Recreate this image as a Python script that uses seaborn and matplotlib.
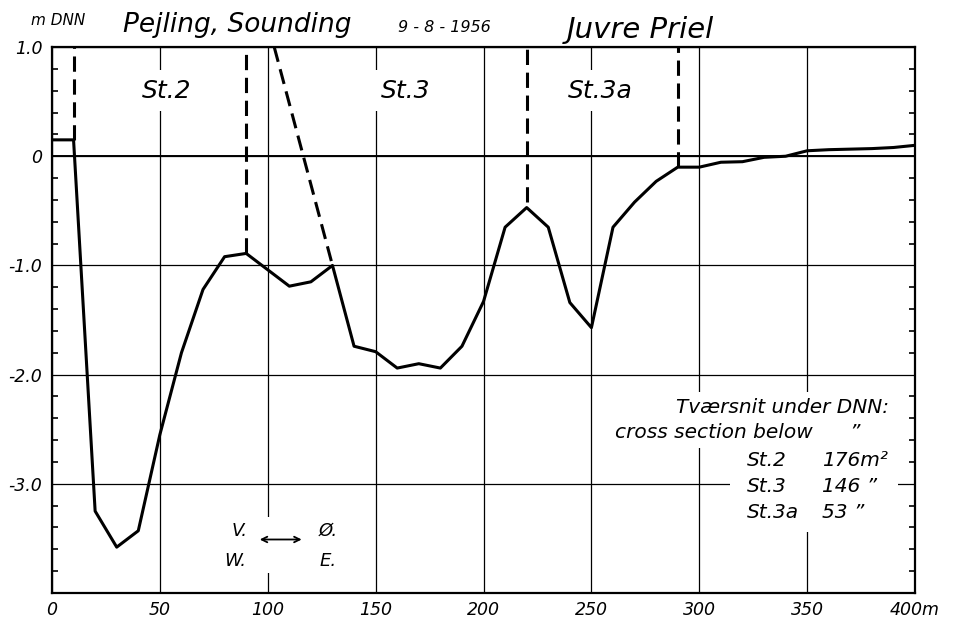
import matplotlib
matplotlib.use("Agg")
import matplotlib.pyplot as plt
from matplotlib.ticker import MultipleLocator, FixedLocator, FixedFormatter
from matplotlib.patches import Rectangle
import pandas as pd
import seaborn as sns

# sounding profile, Juvre Priel 9-8-1956
distance = [0, 10, 20, 30, 40, 50, 60, 70, 80, 90, 100, 110, 120, 130, 140, 150, 160, 170, 180, 190, 200,
            210, 220, 230, 240, 250, 260, 270, 280, 290, 300, 310, 320, 330, 340, 350, 360, 370, 380, 390, 400]
depth = [0.15, 0.15, -3.25, -3.58, -3.43, -2.55, -1.8, -1.22, -0.92, -0.89, -1.04, -1.19, -1.15, -1.0, -1.74,
         -1.79, -1.94, -1.90, -1.94, -1.74, -1.33, -0.65, -0.47, -0.65, -1.34, -1.57, -0.65, -0.42, -0.23, -0.10,
         -0.10, -0.055, -0.05, -0.01, 0.0, 0.05, 0.06, 0.065, 0.07, 0.08, 0.10]

# station boundaries (dashed)
sep_x = [10, 90, 220, 290]
sep_bottom = [0.15, -0.89, -0.42, -0.10]
slant_x = [103, 130]
slant_y = [1.0, -1.0]

station_names = ["St.2", "St.3", "St.3a"]
station_x = [53, 164, 254]
section_values = ["176m²", "146 \u201d", "53 \u201d"]

xtick_vals = [0, 50, 100, 150, 200, 250, 300, 350, 400]
xtick_labels = ["0", "50", "100", "150", "200", "250", "300", "350", "400m"]
ytick_vals = [-4.0, -3.0, -2.0, -1.0, 0.0, 1.0]
ytick_labels = ["", "-3.0", "-2.0", "-1.0", "0", "1.0"]

df = pd.DataFrame({"distance": distance, "depth": depth})

sns.set_style("white")
plt.rcParams["font.family"] = ["DejaVu Sans"]
plt.rcParams["font.style"] = "italic"
plt.rcParams["text.color"] = "black"
plt.rcParams["xtick.color"] = "black"
plt.rcParams["ytick.color"] = "black"

fig = plt.figure(figsize=(9.59, 6.19), dpi=100)
ax = fig.add_axes([0.0542, 0.042, 0.9, 0.882])

ax.set_xlim(0, 400)
ax.set_ylim(-4.0, 1.0)
ax.xaxis.set_major_locator(FixedLocator(xtick_vals))
ax.xaxis.set_major_formatter(FixedFormatter(xtick_labels))
ax.yaxis.set_major_locator(FixedLocator(ytick_vals))
ax.yaxis.set_major_formatter(FixedFormatter(ytick_labels))
ax.yaxis.set_minor_locator(MultipleLocator(0.2))
ax.grid(True, which="major", color="black", linewidth=0.9)
ax.set_axisbelow(True)
ax.axhline(0, color="black", linewidth=1.4, zorder=1)

ax.tick_params(axis="x", which="major", length=0, pad=6, labelsize=12.5)
ax.tick_params(axis="y", which="major", length=5, width=0.9, direction="out", labelsize=12.5, pad=2)
ax.tick_params(axis="y", which="minor", length=4, width=1.2, direction="in", left=True, right=True)
for s in ax.spines.values():
    s.set_color("black")
    s.set_linewidth(1.6)

sns.lineplot(data=df, x="distance", y="depth", color="black", linewidth=2.2, ax=ax, zorder=3)
ax.set_xlabel("")
ax.set_ylabel("")

dash = (0, (5, 2.5))
ax.vlines(sep_x, sep_bottom, 1.0, colors="black", linewidth=2.2, linestyles=[dash], zorder=3)
ax.plot(slant_x, slant_y, color="black", linewidth=2.2, linestyle=dash, zorder=3)

white = dict(facecolor="white", edgecolor="none", pad=6)
for name, x in zip(station_names, station_x):
    ax.text(x, 0.6, name, fontsize=18, ha="center", va="center", bbox=white, zorder=2)

# cross section table, on a blank patch of paper
ax.add_patch(Rectangle((259, -2.67), 133, 0.51, facecolor="white", edgecolor="none", zorder=1.5))
ax.add_patch(Rectangle((314, -3.44), 78, 0.78, facecolor="white", edgecolor="none", zorder=1.5))
ax.text(388, -2.30, "Tværsnit under DNN:", fontsize=14.5, ha="right", va="center", zorder=3)
ax.text(261, -2.53, "cross section below", fontsize=14.5, ha="left", va="center", zorder=3)
ax.text(372, -2.53, "\u201d", fontsize=14.5, ha="center", va="center", zorder=3)
for i, (name, val) in enumerate(zip(station_names, section_values)):
    yy = -2.79 - 0.235 * i
    ax.text(322, yy, name, fontsize=14.5, ha="left", va="center", zorder=3)
    ax.text(357, yy, val, fontsize=14.5, ha="left", va="center", zorder=3)

# direction arrow
ax.add_patch(Rectangle((80, -3.82), 52, 0.52, facecolor="white", edgecolor="none", zorder=1.5))
ax.annotate("", xy=(117, -3.51), xytext=(95, -3.51),
            arrowprops=dict(arrowstyle="<->", color="black", lw=1.3), zorder=3)
ax.text(87, -3.43, "V.", fontsize=13, ha="center", va="center", zorder=3)
ax.text(85, -3.71, "W.", fontsize=13, ha="center", va="center", zorder=3)
ax.text(128, -3.43, "Ø.", fontsize=13, ha="center", va="center", zorder=3)
ax.text(128, -3.71, "E.", fontsize=13, ha="center", va="center", zorder=3)

fig.text(0.061, 0.967, "m DNN", fontsize=11, ha="center", va="center")
fig.text(0.247, 0.960, "Pejling, Sounding", fontsize=19, ha="center", va="center")
fig.text(0.463, 0.955, "9 - 8 - 1956", fontsize=11.5, ha="center", va="center")
fig.text(0.668, 0.952, "Juvre Priel", fontsize=21, ha="center", va="center")

plt.savefig("out.png", dpi=100)
